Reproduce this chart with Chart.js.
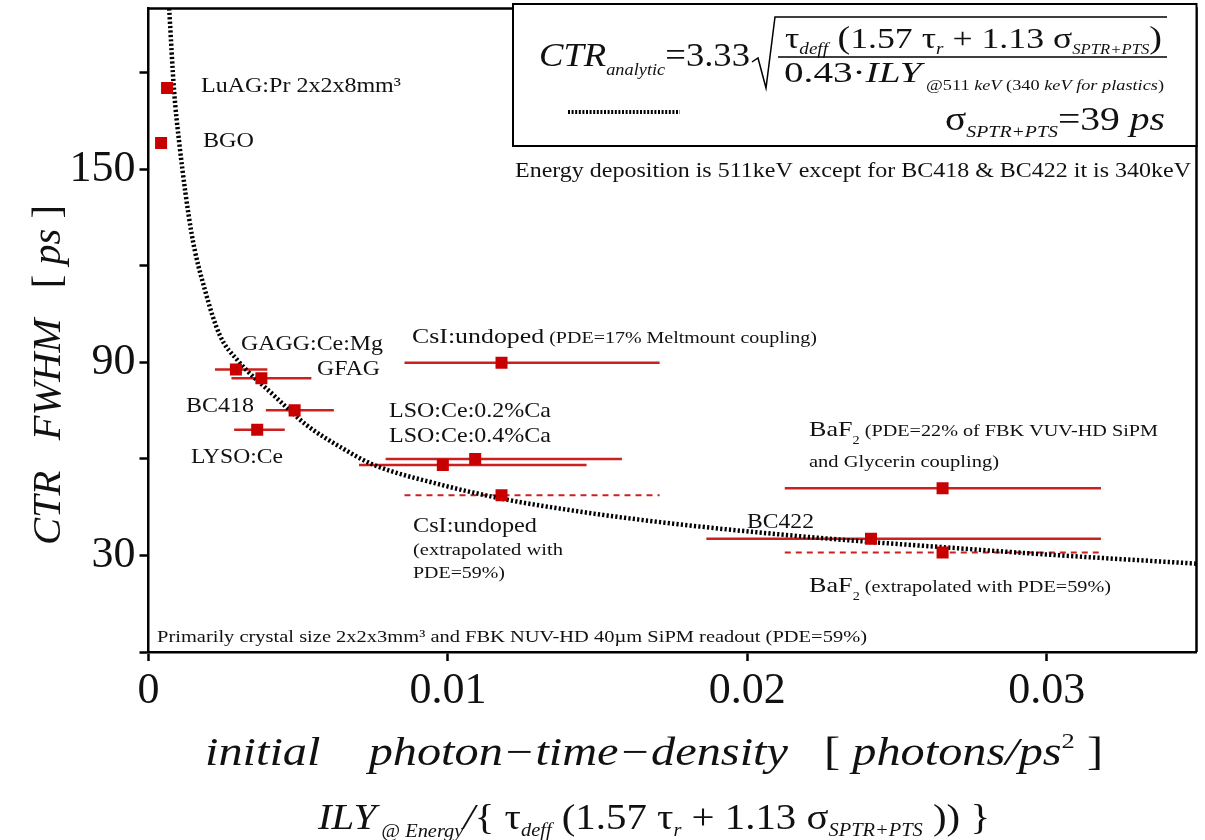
<!DOCTYPE html>
<html>
<head>
<meta charset="utf-8">
<script src="https://cdn.jsdelivr.net/npm/chart.js@4.4.1/dist/chart.umd.min.js"></script>
<style>
  html, body { margin: 0; padding: 0; background: #fff; }
  #c { display: block; }
</style>
</head>
<body>
<canvas id="c" width="1205" height="840"></canvas>
<script>
// crystals, values
var names = ['LuAG:Pr', 'BGO', 'GAGG:Ce:Mg', 'GFAG', 'BC418', 'LYSO:Ce', 'CsI:undoped',
  'LSO:Ce:0.2%Ca', 'LSO:Ce:0.4%Ca', 'CsI:undoped extrapolated', 'BaF2', 'BC422', 'BaF2 extrapolated'];
var density = [0.00062, 0.00042, 0.00292, 0.00377, 0.00488, 0.00363, 0.01179,
  0.01091, 0.00983, 0.01179, 0.02652, 0.02413, 0.02652];
var ctr = [175.3, 158.2, 87.8, 85.1, 75.1, 69.1, 89.9, 60.0, 58.1, 48.7, 50.9, 35.2, 30.9];
var densityLo = [null, null, 0.00222, 0.00277, 0.00392, 0.00286, 0.00855,
  0.00792, 0.00703, 0.00855, 0.02125, 0.01863, 0.02125];
var densityHi = [null, null, 0.00397, 0.00544, 0.00619, 0.00455, 0.01707,
  0.01581, 0.01463, 0.01707, 0.03181, 0.03181, 0.03181];
var extrapolated = [false, false, false, false, false, false, false, false, false, true, false, false, true];

// analytic curve, points
var curveX = [0.00069, 0.00085, 0.00103, 0.00144, 0.0019, 0.00238, 0.00299, 0.00416, 0.00527, 0.0065,
  0.00749, 0.00972, 0.01194, 0.0140, 0.01583, 0.0185, 0.0215, 0.0241, 0.0265, 0.0300, 0.0351];
var curveY = [200, 175, 158, 130, 112, 98.5, 90.5, 80, 70.6, 63.2,
  58.3, 52.1, 47.4, 44.2, 41.8, 38.9, 36.2, 34.2, 32.6, 30.3, 27.4];

var xTicks = [0, 0.01, 0.02, 0.03];
var xTickLabels = ['0', '0.01', '0.02', '0.03'];
var yTicks = [0, 30, 60, 90, 120, 150, 180];
var yTickLabels = ['', '30', '', '90', '', '150', ''];

var SERIF = '"Liberation Serif", "Times New Roman", serif';
var RED = '#c80000';
var BAR_RED = '#cc2020';

// draw a row of text pieces: [text, size, italic, dy]; optional width squeezes the row
function runs(ctx, x, y, parts, width) {
  var total = 0;
  parts.forEach(function(p) {
    ctx.font = (p[2] ? 'italic ' : '') + p[1] + 'px ' + SERIF;
    p.w = ctx.measureText(p[0]).width;
    total += p.w;
  });
  var k = width ? width / total : 1;
  ctx.save();
  ctx.translate(x, y);
  ctx.scale(k, 1);
  var cx = 0;
  parts.forEach(function(p) {
    ctx.font = (p[2] ? 'italic ' : '') + p[1] + 'px ' + SERIF;
    ctx.fillText(p[0], cx, p[3] || 0);
    cx += p.w;
  });
  ctx.restore();
}

var decor = {
  id: 'decor',
  afterDraw: function(chart) {
    var ctx = chart.ctx, a = chart.chartArea;
    ctx.save();
    ctx.fillStyle = '#111';
    ctx.strokeStyle = '#000';
    ctx.textBaseline = 'alphabetic';
    ctx.textAlign = 'left';

    // frame top/right
    ctx.lineWidth = 2.5;
    ctx.beginPath();
    ctx.moveTo(a.left, a.top);
    ctx.lineTo(a.right, a.top);
    ctx.lineTo(a.right, a.bottom);
    ctx.stroke();

    // formula box
    ctx.fillStyle = '#fff';
    ctx.fillRect(513, 4, a.right - 513, 142);
    ctx.lineWidth = 2;
    ctx.strokeRect(513, 4, a.right - 513, 142);
    ctx.fillStyle = '#111';

    runs(ctx, 539, 66, [['CTR', 34, true], ['analytic', 17, true, 9], ['=3.33', 34, false]], 211);
    ctx.lineWidth = 1.5;
    ctx.beginPath();
    ctx.moveTo(752, 62); ctx.lineTo(758, 58); ctx.lineTo(766, 88);
    ctx.lineTo(775, 17); ctx.lineTo(1167, 17);
    ctx.moveTo(778, 57); ctx.lineTo(1167, 57);
    ctx.stroke();
    runs(ctx, 785, 48, [['\u03c4', 30], ['deff', 16, true, 6], [' (', 32], ['1.57 \u03c4', 30], ['r', 16, true, 6],
      [' + 1.13 \u03c3', 30], ['SPTR+PTS', 14, true, 6], [')', 32]], 377);
    runs(ctx, 784, 82, [['0.43\u00b7', 30], ['ILY', 30, true], [' @511 ', 14, false, 8], ['keV', 14, true, 8],
      [' (340 ', 14, false, 8], ['keV for plastics', 14, true, 8], [')', 14, false, 8]], 380);
    runs(ctx, 945, 130, [['\u03c3', 34], ['SPTR+PTS', 17, true, 7], ['=39 ', 34], ['ps', 34, true]], 220);

    ctx.save();
    ctx.lineWidth = 4;
    ctx.setLineDash([2, 1.6]);
    ctx.beginPath();
    ctx.moveTo(568, 112); ctx.lineTo(680, 112);
    ctx.stroke();
    ctx.restore();

    // notes and labels
    var L = 22, S = 17;
    runs(ctx, 515, 177, [['Energy deposition is 511keV except for BC418 & BC422 it is 340keV', 21]], 676);
    runs(ctx, 157, 642, [['Primarily crystal size 2x2x3mm\u00b3 and FBK NUV-HD 40\u00b5m SiPM readout (PDE=59%)', S]], 710);
    runs(ctx, 201, 92, [['LuAG:Pr 2x2x8mm\u00b3', L]], 200);
    runs(ctx, 203, 147, [['BGO', L]], 51);
    runs(ctx, 241, 350, [['GAGG:Ce:Mg', L]], 142);
    runs(ctx, 317, 375, [['GFAG', L]], 63);
    runs(ctx, 186, 412, [['BC418', L]], 68);
    runs(ctx, 191, 463, [['LYSO:Ce', L]], 92);
    runs(ctx, 412, 343, [['CsI:undoped', L], [' (PDE=17% Meltmount coupling)', S]], 405);
    runs(ctx, 389, 417, [['LSO:Ce:0.2%Ca', L]], 162);
    runs(ctx, 389, 442, [['LSO:Ce:0.4%Ca', L]], 162);
    runs(ctx, 413, 532, [['CsI:undoped', L]], 124);
    runs(ctx, 413, 555, [['(extrapolated with', S]], 150);
    runs(ctx, 413, 578, [['PDE=59%)', S]], 92);
    runs(ctx, 809, 436, [['BaF', L], ['2', 12, false, 8], [' (PDE=22% of FBK VUV-HD SiPM', S]], 349);
    runs(ctx, 809, 467, [['and Glycerin coupling)', S]], 190);
    runs(ctx, 747, 528, [['BC422', L]], 67);
    runs(ctx, 809, 592, [['BaF', L], ['2', 12, false, 8], [' (extrapolated with PDE=59%)', S]], 302);

    // axis titles
    ctx.save();
    ctx.translate(60, 545);
    ctx.rotate(-Math.PI / 2);
    runs(ctx, 0, 0, [['CTR', 40, true], ['   ', 40], ['FWHM', 40, true], ['   [ ', 40], ['ps', 40, true], [' ]', 40]], 340);
    ctx.restore();
    runs(ctx, 205, 765, [['initial', 40, true], ['    ', 40], ['photon\u2212time\u2212density', 40, true], ['   [ ', 40],
      ['photons/ps', 40, true], ['2', 22, false, -17], [' ]', 40]], 898);
    runs(ctx, 318, 829, [['ILY', 36, true], [' @ Energy', 18, true, 8], ['/', 36, true], ['{ \u03c4', 36], ['deff', 18, true, 7],
      [' (1.57 \u03c4', 36], ['r', 18, true, 7], [' + 1.13 \u03c3', 36], ['SPTR+PTS', 18, true, 7], [' ))', 36], [' }', 36]], 672);
    ctx.restore();
  }
};

var datasets = [];
datasets.push({
  type: 'scatter',
  data: density.map(function(v, i) { return { x: v, y: ctr[i] }; }),
  pointStyle: 'rect',
  pointRadius: 8.5,
  pointBackgroundColor: RED,
  pointBorderWidth: 0,
  showLine: false
});
datasets.push({
  type: 'line',
  data: curveX.map(function(v, i) { return { x: v, y: curveY[i] }; }),
  borderColor: '#000',
  borderWidth: 4.5,
  borderDash: [2.2, 2.2],
  cubicInterpolationMode: 'monotone',
  pointRadius: 0,
  fill: false
});
names.forEach(function(n, i) {
  if (densityLo[i] === null) return;
  datasets.push({
    type: 'line',
    data: [{ x: densityLo[i], y: ctr[i] }, { x: densityHi[i], y: ctr[i] }],
    borderColor: BAR_RED,
    borderWidth: extrapolated[i] ? 2 : 2.5,
    borderDash: extrapolated[i] ? [6, 5] : [],
    pointRadius: 0,
    fill: false
  });
});

new Chart(document.getElementById('c'), {
  type: 'scatter',
  data: { datasets: datasets },
  options: {
    responsive: false,
    animation: false,
    devicePixelRatio: 1,
    layout: { padding: { top: 4, right: 6, left: 0, bottom: 0 } },
    plugins: { legend: { display: false }, tooltip: { enabled: false } },
    scales: {
      x: {
        type: 'linear', min: 0, max: 0.035,
        afterBuildTicks: function(s) { s.ticks = xTicks.map(function(v) { return { value: v }; }); },
        afterFit: function(s) { s.height = 188; s.paddingLeft = 0; s.paddingRight = 0; },
        ticks: {
          callback: function(v) { var i = xTicks.indexOf(v); return i < 0 ? '' : xTickLabels[i]; },
          font: { family: SERIF, size: 44 }, color: '#111', padding: 4, maxRotation: 0, autoSkip: false
        },
        grid: { drawOnChartArea: false, tickLength: 9, tickColor: '#000', tickWidth: 2.5 },
        border: { color: '#000', width: 2.5 }
      },
      y: {
        type: 'linear', min: 0, max: 200,
        afterBuildTicks: function(s) { s.ticks = yTicks.map(function(v) { return { value: v }; }); },
        afterFit: function(s) { s.width = 148.5; s.paddingTop = 0; s.paddingBottom = 0; },
        ticks: {
          callback: function(v) { var i = yTicks.indexOf(v); return i < 0 ? '' : yTickLabels[i]; },
          font: { family: SERIF, size: 44 }, color: '#111', padding: 4, autoSkip: false
        },
        grid: { drawOnChartArea: false, tickLength: 9, tickColor: '#000', tickWidth: 2.5 },
        border: { color: '#000', width: 2.5 }
      }
    }
  },
  plugins: [decor]
});
</script>
</body>
</html>
